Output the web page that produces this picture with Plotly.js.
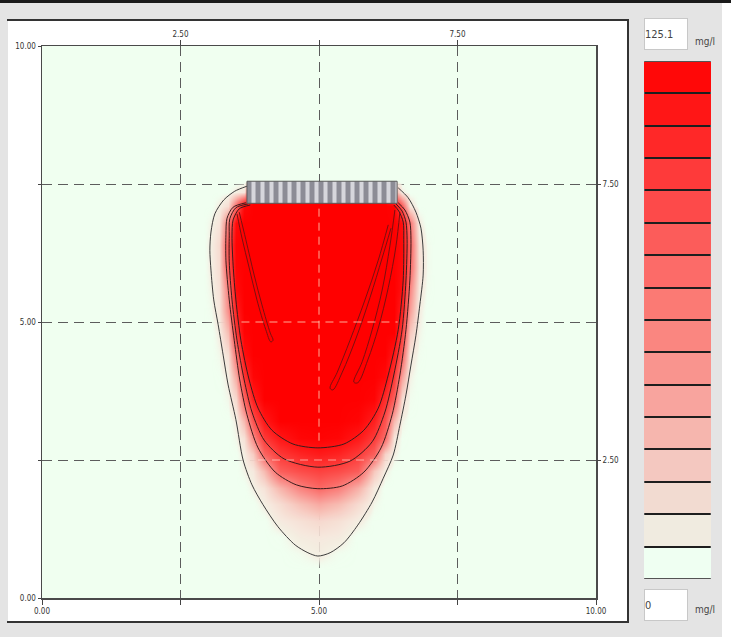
<!DOCTYPE html>
<html>
<head>
<meta charset="utf-8">
<script src="https://cdn.plot.ly/plotly-3.0.1.min.js"></script>
<style>html,body{margin:0;padding:0;background:#fff;}#chart{width:731px;height:637px;}</style>
</head>
<body>
<div id="chart"></div>
<script>
// ---- concentration field (mg/l) ----
const xGrid = [0, 2.9, 3.05, 3.2, 3.35, 3.5, 3.65, 3.8, 4.0, 4.3, 4.65, 5.0, 5.35, 5.7, 6.0, 6.2, 6.35, 6.5, 6.65, 6.8, 6.95, 7.1, 10];
const yGrid = [0, 0.5, 0.8, 1.1, 1.4, 1.7, 2.0, 2.3, 2.6, 2.9, 3.2, 3.6, 4.0, 4.4, 4.8, 5.2, 5.6, 6.0, 6.4, 6.8, 7.1, 7.35, 7.56, 10];
const conc = [
  [0,0,0,0,0,0,0,0,0,0,0,0,0,0,0,0,0,0,0,0,0,0,0],
  [0,0,0,0,0,0,0,0,0,0,0,0,0,0,0,0,0,0,0,0,0,0,0],
  [0,0,0,0,0,0,0,0,0,0,1.6,4.5,1.1,0,0,0,0,0,0,0,0,0,0],
  [0,0,0,0,0,0,0,0,0,0.8,5.5,7,5.8,0,0,0,0,0,0,0,0,0,0],
  [0,0,0,0,0,0,0,0,0,6,10,14,10.5,4.6,0,0,0,0,0,0,0,0,0],
  [0,0,0,0,0,0,0,0,4.1,12,25,35,27,13,2.4,0,0,0,0,0,0,0,0],
  [0,0,0,0,0,0,0,3.5,9,30,52,65,55,32,6,0,0,0,0,0,0,0,0],
  [0,0,0,0,0,0,2.7,6.5,27,70,80,86,81,71,22,4.1,0,0,0,0,0,0,0],
  [0,0,0,0,0,0.5,4.7,20,66,91,102,108,103,90,69,17,3.7,0,0,0,0,0,0],
  [0,0,0,0,0,2.4,10,49,90,110,121,123,121,109,90,63,8,0.6,0,0,0,0,0],
  [0,0,0,0,0,4,28,77,109,125,125,125,125,122,105,77,28,3.2,0,0,0,0,0],
  [0,0,0,0,2.4,14,67,106,125,125,125,125,125,125,122,97,70,12,1.3,0,0,0,0],
  [0,0,0,0.5,4.4,35,93,121,125,125,125,125,125,125,125,119,90,38,3.2,0,0,0,0],
  [0,0,0,2.1,10.7,60,115,125,125,125,125,125,125,125,125,125,109,68,7,1.1,0,0,0],
  [0,0,0,4,26,90,123,125,125,125,125,125,125,125,125,125,125,87,21,2.7,0,0,0],
  [0,0,1.6,7.5,47,106,125,125,125,125,125,125,125,125,125,125,125,104,39,4.3,0,0,0],
  [0,0,2.9,10,55,118,125,125,125,125,125,125,125,125,125,125,125,115,50,7.2,1.3,0,0],
  [0,0,4,12,75,122,125,125,125,125,125,125,125,125,125,125,125,117,65,11,2.1,0,0],
  [0,0,4.3,13,78,123,125,125,125,125,125,125,125,125,125,125,125,118,68,10,1.9,0,0],
  [0,0,2.9,8,56,118,125,125,125,125,125,125,125,125,125,125,125,115,58,4.5,0,0,0],
  [0,0,0,4,12,65,120,125,125,125,125,125,125,125,125,125,123,72,7.5,0,0,0,0],
  [0,0,0,0,0.8,4.5,8,125,125,125,125,125,125,125,125,125,40,4,0,0,0,0,0],
  [0,0,0,0,0,0,0,0,0,0,0,0,0,0,0,0,0,0,0,0,0,0,0],
  [0,0,0,0,0,0,0,0,0,0,0,0,0,0,0,0,0,0,0,0,0,0,0]
];

// ---- contour lines ----
const outerX = [3.70,3.48,3.28,3.12,3.05,3.03,3.05,3.10,3.18,3.27,3.36,3.50,3.63,3.79,3.99,4.26,4.57,4.80,4.98,5.20,5.45,5.70,5.96,6.16,6.34,6.46,6.57,6.66,6.75,6.82,6.88,6.88,6.84,6.75,6.61,6.43];
const outerY = [7.46,7.37,7.21,6.96,6.63,6.30,5.94,5.40,4.95,4.40,3.86,3.23,2.50,2.05,1.69,1.29,0.96,0.82,0.76,0.82,1.00,1.32,1.74,2.17,2.59,3.13,3.68,4.22,4.76,5.31,5.85,6.30,6.70,6.99,7.25,7.43];
const contCX = [3.68,3.45,3.34,3.32,3.32,3.38,3.47,3.57,3.70,3.90,4.21,4.59,4.98,5.42,5.81,6.12,6.32,6.46,6.57,6.64,6.66,6.64,6.55,6.43];
const contCY = [7.16,7.08,6.88,6.58,6.12,5.40,4.67,3.95,3.32,2.72,2.28,2.05,1.98,2.03,2.28,2.72,3.32,4.04,4.86,5.76,6.49,6.81,7.03,7.16];
const contBX = [3.72,3.50,3.39,3.38,3.38,3.43,3.52,3.65,3.79,4.01,4.37,4.98,5.56,5.96,6.19,6.35,6.50,6.57,6.59,6.57,6.50,6.39];
const contBY = [7.14,7.07,6.87,6.56,6.09,5.40,4.67,3.95,3.37,2.86,2.52,2.37,2.48,2.83,3.37,4.04,4.86,5.76,6.49,6.81,7.01,7.14];
const contAX = [3.76,3.56,3.45,3.43,3.45,3.50,3.59,3.74,3.90,4.15,4.53,4.98,5.45,5.81,6.07,6.25,6.43,6.52,6.53,6.52,6.44,6.35];
const contAY = [7.12,7.05,6.85,6.56,6.03,5.40,4.67,3.95,3.44,3.04,2.79,2.72,2.79,3.04,3.44,4.04,4.86,5.76,6.49,6.81,7.01,7.12];
const streakLX = [3.56,3.68,3.83,3.97,4.12,4.17,4.13,4.04,3.88,3.74,3.61,3.52];
const streakLY = [6.99,6.49,5.85,5.31,4.80,4.67,4.64,4.86,5.40,5.98,6.52,6.96];
const streakR1X = [6.25,6.07,5.83,5.56,5.33,5.20,5.25,5.42,5.67,5.92,6.14,6.30];
const streakR1Y = [6.76,6.12,5.40,4.67,4.09,3.80,3.77,4.09,4.71,5.44,6.16,6.70];
const streakR2X = [6.37,6.28,6.14,5.96,5.78,5.63,5.70,5.88,6.07,6.25,6.39,6.46];
const streakR2Y = [7.03,6.38,5.58,4.86,4.28,3.91,3.90,4.31,4.89,5.62,6.38,6.99];

// ---- source (gray bar) ----
const sourceX = [3.70, 6.41];
const sourceY = [7.15, 7.55];

// ---- ticks ----
const xTickVals = [0, 2.5, 5, 7.5, 10];
const xTickText = ['0.00', '', '5.00', '', '10.00'];
const yTickVals = [0, 2.5, 5, 7.5, 10];
const yTickText = ['0.00', '', '5.00', '', '10.00'];
const topTickVals = [2.5, 5, 7.5];
const topTickText = ['2.50', '', '7.50'];
const rightTickVals = [2.5, 7.5];
const rightTickText = ['2.50', '7.50'];

// ---- legend bands ----
const cbLevels = [0, 7.82, 15.64, 23.46, 31.28, 39.10, 46.91, 54.73, 62.55, 70.37, 78.19, 86.01, 93.83, 101.64, 109.46, 117.28];
const cbColors = ['#effff2','#f0ebe0','#f2dbd1','#f4c8c0','#f6b6ae','#f8a49e','#f9948e','#fa8680','#fb7a74','#fc6b68','#fc5c5a','#fd4a4a','#fe3a3a','#ff2828','#ff1616','#ff0808'];
const maxLabel = '125.1';
const minLabel = '0';
const unitLabel = 'mg/l';

const plumeScale = [
  [0, 'rgba(240,255,240,0)'],
  [0.025, 'rgba(245,238,226,0.85)'],
  [0.08, 'rgba(246,222,212,0.92)'],
  [0.2, '#f7c0b6'],
  [0.35, '#f99590'],
  [0.52, '#fb6864'],
  [0.72, '#fd3a38'],
  [0.9, '#ff1212'],
  [1, '#ff0000']
];

const fam = 'Liberation Sans Narrow, DejaVu Sans Condensed, Liberation Sans, Arial, sans-serif';
const contourLine = {color: '#3a1c1c', width: 1, shape: 'spline', smoothing: 0.8};

const traces = [
  {type: 'heatmap', x: xGrid, y: yGrid, z: conc, zsmooth: 'best', zmin: 0, zmax: 125.1,
   colorscale: plumeScale, showscale: false, hoverinfo: 'skip'},
  {type: 'scatter', mode: 'lines', x: outerX, y: outerY, line: {color: '#3c3c3c', width: 1, shape: 'spline', smoothing: 0.8}, hoverinfo: 'skip'},
  {type: 'scatter', mode: 'lines', x: contCX, y: contCY, line: contourLine, hoverinfo: 'skip'},
  {type: 'scatter', mode: 'lines', x: contBX, y: contBY, line: contourLine, hoverinfo: 'skip'},
  {type: 'scatter', mode: 'lines', x: contAX, y: contAY, line: contourLine, hoverinfo: 'skip'},
  {type: 'scatter', mode: 'lines', x: streakLX, y: streakLY, line: {color: '#7a1010', width: 1, shape: 'spline'}, hoverinfo: 'skip'},
  {type: 'scatter', mode: 'lines', x: streakR1X, y: streakR1Y, line: {color: '#7a1010', width: 1, shape: 'spline'}, hoverinfo: 'skip'},
  {type: 'scatter', mode: 'lines', x: streakR2X, y: streakR2Y, line: {color: '#7a1010', width: 1, shape: 'spline'}, hoverinfo: 'skip'},
  {type: 'scatter', mode: 'lines', fill: 'toself',
   x: [sourceX[0], sourceX[1], sourceX[1], sourceX[0], sourceX[0]],
   y: [sourceY[0], sourceY[0], sourceY[1], sourceY[1], sourceY[0]],
   fillcolor: '#8e8e98',
   fillpattern: {shape: '|', fgcolor: '#d6d6dc', bgcolor: '#8c8c96', size: 9, solidity: 0.45},
   line: {color: '#5a5a5a', width: 1}, hoverinfo: 'skip'},
  {type: 'scatter', x: [], y: [], xaxis: 'x2', yaxis: 'y', hoverinfo: 'skip'},
  {type: 'scatter', x: [], y: [], xaxis: 'x', yaxis: 'y2', hoverinfo: 'skip'},
  {type: 'heatmap', xaxis: 'x3', yaxis: 'y3', x: [0], y: cbLevels, z: cbLevels.map(v => [v]),
   zmin: 0, zmax: cbLevels[cbLevels.length - 1],
   colorscale: cbLevels.map((v, i) => [v / cbLevels[cbLevels.length - 1], cbColors[i]]),
   ygap: 2, showscale: false, hoverinfo: 'skip'}
];

// paper coordinate helpers (pixels -> paper) for frame decoration
const PL = 42, PW = 669, PB = 598, PH = 552;
const px = v => (v - PL) / PW;
const py = v => (PB - v) / PH;

const gridLight = {color: 'rgba(255,228,200,0.75)', width: 1, dash: '8px,6px'};

const layout = {
  width: 731, height: 637,
  margin: {l: 42, r: 20, t: 46, b: 39, pad: 0},
  paper_bgcolor: '#ffffff',
  plot_bgcolor: 'rgba(0,0,0,0)',
  showlegend: false,
  font: {family: fam, size: 8, color: '#333'},
  xaxis: {domain: [0, px(596)], range: [0, 10], tickvals: xTickVals, ticktext: xTickText,
    ticks: 'outside', ticklen: 5, tickcolor: '#444', showgrid: true, gridcolor: '#5c5c5c',
    gridwidth: 1, griddash: '10px,6px', zeroline: false, showline: true, linecolor: '#4a4a4a',
    linewidth: 1.5, mirror: true, anchor: 'y', tickfont: {family: fam, size: 8, color: '#333'}},
  yaxis: {domain: [0, 1], range: [0, 10], tickvals: yTickVals, ticktext: yTickText,
    ticks: 'outside', ticklen: 3, tickcolor: '#444', showgrid: true, gridcolor: '#5c5c5c',
    gridwidth: 1, griddash: '10px,6px', zeroline: false, showline: true, linecolor: '#4a4a4a',
    linewidth: 1.5, mirror: true, anchor: 'x', tickfont: {family: fam, size: 8, color: '#333'}},
  xaxis2: {overlaying: 'x', side: 'top', range: [0, 10], tickvals: topTickVals, ticktext: topTickText,
    ticks: 'outside', ticklen: 5, tickcolor: '#444', showgrid: false, zeroline: false, showline: false,
    anchor: 'y', tickfont: {family: fam, size: 8, color: '#333'}},
  yaxis2: {overlaying: 'y', side: 'right', range: [0, 10], tickvals: rightTickVals, ticktext: rightTickText,
    ticks: 'outside', ticklen: 4, tickcolor: '#444', showgrid: false, zeroline: false, showline: false,
    anchor: 'x', tickfont: {family: fam, size: 8, color: '#333'}},
  xaxis3: {domain: [px(644), 1], range: [-0.5, 0.5], visible: false, anchor: 'y3'},
  yaxis3: {domain: [py(579), py(61)], range: [-3.91, 121.19], visible: false, anchor: 'x3'},
  shapes: [
    {type: 'rect', xref: 'paper', yref: 'paper', x0: px(0), x1: px(722), y0: py(637), y1: py(3),
     fillcolor: '#e4e4e4', line: {width: 0}, layer: 'below'},
    {type: 'line', xref: 'paper', yref: 'paper', x0: px(0), x1: px(731), y0: py(1.5), y1: py(1.5),
     line: {color: '#1a1a1a', width: 3}, layer: 'below'},
    {type: 'rect', xref: 'paper', yref: 'paper', x0: px(8), x1: px(628), y0: py(622), y1: py(20),
     fillcolor: '#ffffff', line: {width: 0}, layer: 'below'},
    {type: 'rect', xref: 'paper', yref: 'paper', x0: 0, x1: px(596), y0: 0, y1: 1,
     fillcolor: '#f0fff0', line: {width: 0}, layer: 'below'},
    {type: 'line', xref: 'paper', yref: 'paper', x0: px(7), x1: px(629), y0: py(20), y1: py(20),
     line: {color: '#333', width: 2}, layer: 'below'},
    {type: 'line', xref: 'paper', yref: 'paper', x0: px(7), x1: px(629), y0: py(622), y1: py(622),
     line: {color: '#333', width: 2}, layer: 'below'},
    {type: 'line', xref: 'paper', yref: 'paper', x0: px(628), x1: px(628), y0: py(622), y1: py(20),
     line: {color: '#333', width: 2}, layer: 'below'},
    {type: 'rect', xref: 'x3', yref: 'y3', x0: -0.5, x1: 0.5, y0: -3.91, y1: 121.19,
     fillcolor: '#1e1e1e', line: {color: '#8a8a8a', width: 1}, layer: 'below'},
    {type: 'line', xref: 'x', yref: 'y', x0: 5, x1: 5, y0: 2.85, y1: 7.15, line: gridLight, layer: 'above'},
    {type: 'line', xref: 'x', yref: 'y', x0: 3.6, x1: 6.42, y0: 5, y1: 5, line: gridLight, layer: 'above'},
    {type: 'line', xref: 'x', yref: 'y', x0: 3.9, x1: 6.05, y0: 2.5, y1: 2.5,
     line: {color: 'rgba(255,238,228,0.6)', width: 1, dash: '8px,6px'}, layer: 'above'}
  ],
  annotations: [
    {xref: 'paper', yref: 'paper', x: px(644), y: py(34), xanchor: 'left', yanchor: 'middle',
     text: maxLabel, showarrow: false, align: 'left', width: 42, height: 30,
     bgcolor: '#ffffff', bordercolor: '#c8c8c8', borderwidth: 1, borderpad: 0,
     font: {family: fam, size: 11, color: '#444'}},
    {xref: 'paper', yref: 'paper', x: px(693), y: py(41), xanchor: 'left', yanchor: 'middle',
     text: unitLabel, showarrow: false, font: {family: fam, size: 10, color: '#444'}},
    {xref: 'paper', yref: 'paper', x: px(644), y: py(605), xanchor: 'left', yanchor: 'middle',
     text: minLabel, showarrow: false, align: 'left', width: 42, height: 30,
     bgcolor: '#ffffff', bordercolor: '#c8c8c8', borderwidth: 1, borderpad: 0,
     font: {family: fam, size: 11, color: '#444'}},
    {xref: 'paper', yref: 'paper', x: px(693), y: py(609), xanchor: 'left', yanchor: 'middle',
     text: unitLabel, showarrow: false, font: {family: fam, size: 10, color: '#444'}}
  ]
};

Plotly.newPlot('chart', traces, layout, {staticPlot: true, displayModeBar: false});
</script>
</body>
</html>
